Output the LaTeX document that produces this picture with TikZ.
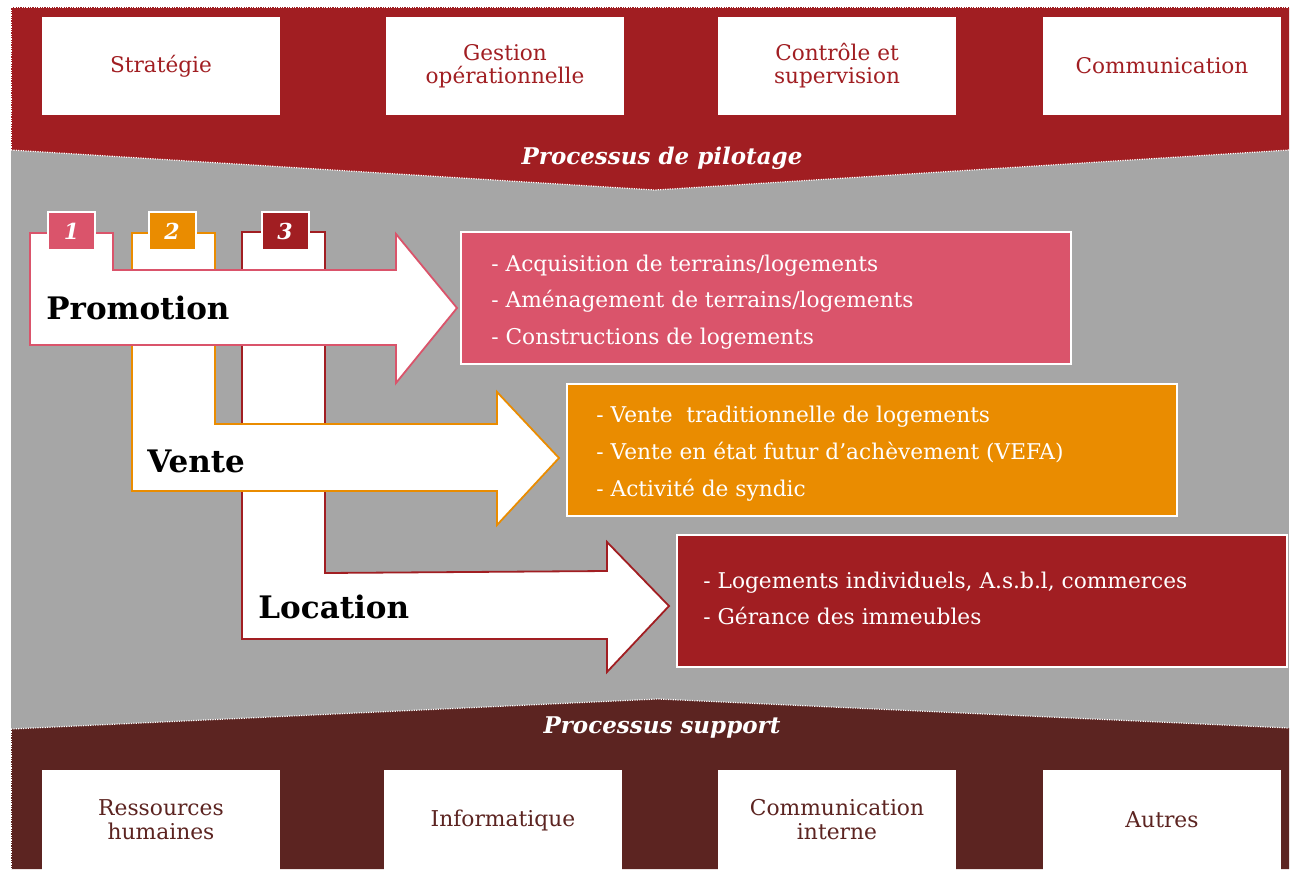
\documentclass[tikz,border=0pt]{standalone}
\usepackage{fontspec}
\setmainfont{DejaVu Serif}
\definecolor{topred}{HTML}{A11E22}
\definecolor{botbrown}{HTML}{5C2421}
\definecolor{bggray}{HTML}{A6A6A6}
\definecolor{pinkc}{HTML}{DA546B}
\definecolor{orangec}{HTML}{EA8C00}
\tikzset{
  topbox/.style={fill=white, minimum width=119pt, minimum height=49pt, inner sep=0pt, align=center, text=topred, font=\fontsize{10.8pt}{11.5pt}\selectfont},
  botbox/.style={fill=white, minimum width=119pt, minimum height=50.5pt, inner sep=0pt, align=center, text=botbrown, font=\fontsize{10.9pt}{12pt}\selectfont},
  infobox/.style={draw=white, line width=1pt, minimum width=305pt, minimum height=66pt, inner sep=0pt},
  itemtext/.style={anchor=base west, inner sep=0pt, text=white, font=\fontsize{10.85pt}{12pt}\selectfont},
  tabbox/.style={draw=white, line width=1pt, minimum width=23.5pt, minimum height=19pt, inner sep=0pt, text=white, font=\fontsize{11pt}{12pt}\selectfont\bfseries\itshape},
  flowshape/.style={fill=white, line width=0.9pt, line join=miter},
  flowlabel/.style={anchor=base west, inner sep=0pt, font=\fontsize{15.5pt}{17pt}\selectfont\bfseries},
  bandlabel/.style={inner sep=0pt, text=white, font=\fontsize{11.5pt}{12pt}\selectfont\bfseries\itshape},
  dotline/.style={white, line width=0.6pt, dash pattern=on 0.6pt off 0.6pt}
}
\begin{document}
\begin{tikzpicture}[x=0.5pt,y=-0.5pt]
\useasboundingbox (0,0) rectangle (1291,869);
\fill[white] (0,0) rectangle (1291,869);
% background bands
\fill[bggray] (11,150) rectangle (1289,730);
\fill[topred] (11,7) -- (1289,7) -- (1289,150) -- (655,190) -- (11,150) -- cycle;
\fill[botbrown] (11,729) -- (658,699) -- (1289,728) -- (1289,869) -- (11,869) -- cycle;
\draw[dotline] (11,150) -- (11,7) -- (1289,7);
\draw[dotline] (11,150) -- (655,190) -- (1289,150);
\draw[dotline] (11,729) -- (658,699) -- (1289,728);
\draw[dotline] (11,729) -- (11,869);
% top boxes
\node[topbox] (strat) at (161,66) {Stratégie};
\node[topbox] (gestion) at (505,66) {Gestion\\opérationnelle};
\node[topbox] (controle) at (837,66) {Contrôle et\\supervision};
\node[topbox] (comm) at (1162,66) {Communication};
\node[bandlabel] (pilot) at (662,158) {Processus de pilotage};
% bottom boxes
\node[botbox] (rh) at (161,820) {Ressources\\humaines};
\node[botbox] (info) at (503,820) {Informatique};
\node[botbox] (comint) at (837,820) {Communication\\interne};
\node[botbox] (autres) at (1162,820) {Autres};
\node[bandlabel] (support) at (662,727) {Processus support};
% flow shapes
\draw[flowshape, draw=topred] (242,232) -- (325,232) -- (325,573) -- (607,571) -- (607,542) -- (669,606) -- (607,672) -- (607,639) -- (242,639) -- cycle;
\draw[flowshape, draw=orangec] (132,233) -- (215,233) -- (215,424) -- (497,424) -- (497,392) -- (559,458) -- (497,525) -- (497,491) -- (132,491) -- cycle;
\draw[flowshape, draw=pinkc] (30,233) -- (113,233) -- (113,270) -- (396,270) -- (396,234) -- (457,308) -- (396,383) -- (396,345) -- (30,345) -- cycle;
\node[flowlabel] (promo) at (46,319) {Promotion};
\node[flowlabel] (vente) at (147,472) {Vente};
\node[flowlabel] (loc) at (258,618) {Location};
% tabs
\node[tabbox, fill=pinkc] (t1) at (71.5,231) {1};
\node[tabbox, fill=orangec] (t2) at (172,231) {2};
\node[tabbox, fill=topred] (t3) at (285,231) {3};
% info boxes
\node[infobox, fill=pinkc] (b1) at (766,298) {};
\node[itemtext] (b1a) at (491,271) {- Acquisition de terrains/logements};
\node[itemtext] (b1b) at (491,307) {- Aménagement de terrains/logements};
\node[itemtext] (b1c) at (491,344) {- Constructions de logements};
\node[infobox, fill=orangec] (b2) at (871.5,449.5) {};
\node[itemtext] (b2a) at (596,422) {- Vente\ \ traditionnelle de logements};
\node[itemtext] (b2b) at (596,459) {- Vente en état futur d’achèvement (VEFA)};
\node[itemtext] (b2c) at (596,496) {- Activité de syndic};
\node[infobox, fill=topred] (b3) at (981.5,601) {};
\node[itemtext] (b3a) at (703,588) {- Logements individuels, A.s.b.l, commerces};
\node[itemtext] (b3b) at (703,624) {- Gérance des immeubles};
\end{tikzpicture}
\end{document}
